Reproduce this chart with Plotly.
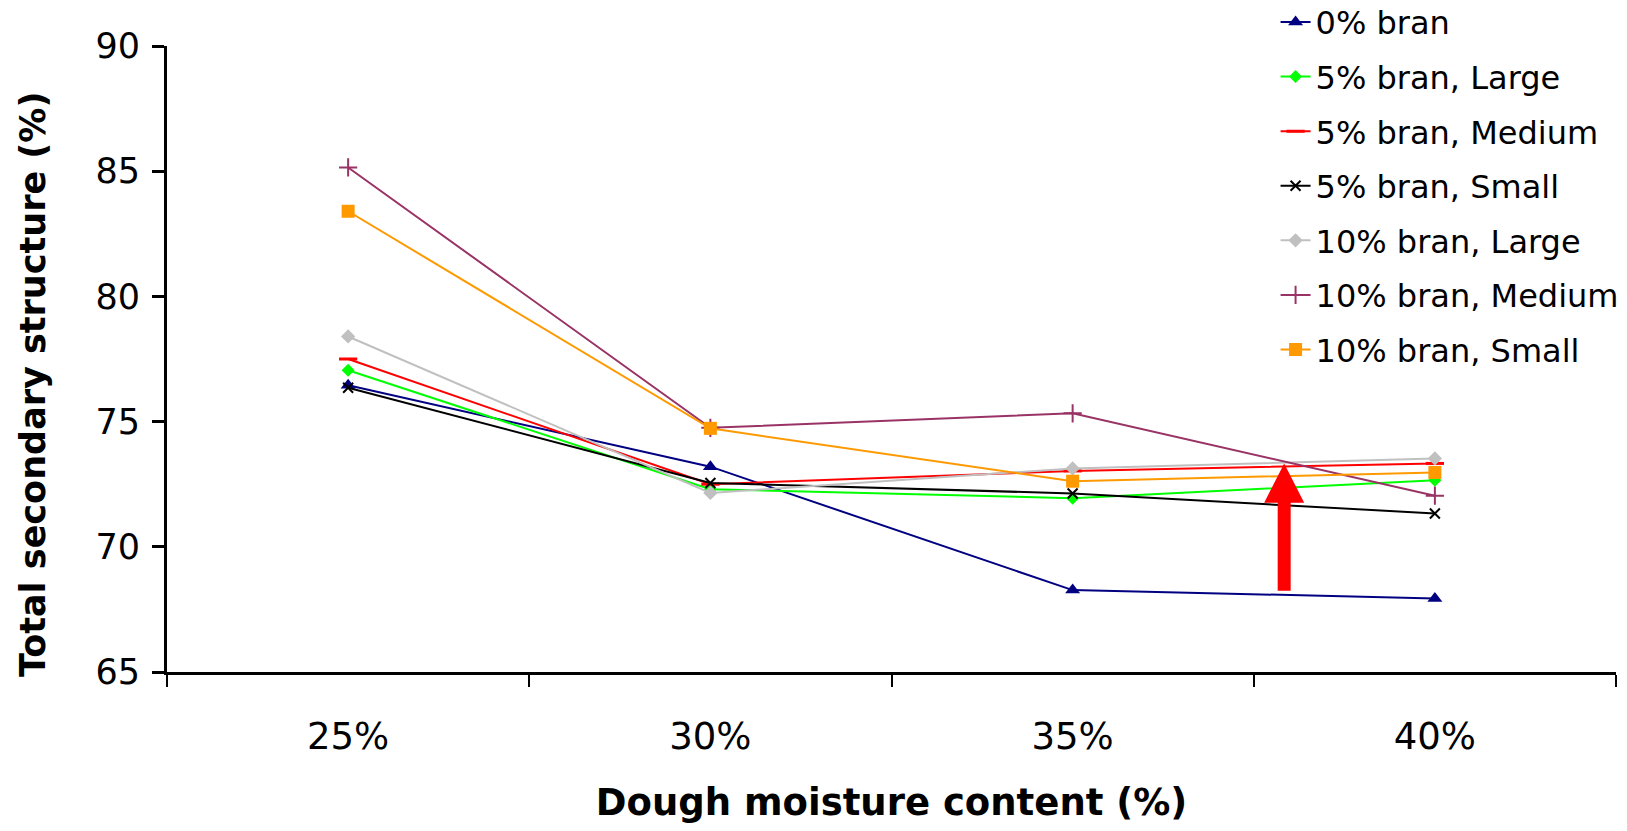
import plotly.graph_objects as go

# ---- data ----
moisture = ["25%", "30%", "35%", "40%"]
bran_0 = [76.45, 73.2, 68.27, 67.94]
bran_5_large = [77.05, 72.3, 71.94, 72.66]
bran_5_medium = [77.5, 72.5, 73.03, 73.33]
bran_5_small = [76.35, 72.55, 72.13, 71.33]
bran_10_large = [78.4, 72.15, 73.13, 73.53]
bran_10_medium = [85.15, 74.75, 75.33, 72.04]
bran_10_small = [83.4, 74.73, 72.62, 72.97]

series_names = ["0% bran", "5% bran, Large", "5% bran, Medium", "5% bran, Small",
                "10% bran, Large", "10% bran, Medium", "10% bran, Small"]
series_values = [bran_0, bran_5_large, bran_5_medium, bran_5_small,
                 bran_10_large, bran_10_medium, bran_10_small]

y_ticks = [65, 70, 75, 80, 85, 90]
x_title = "Dough moisture content (%)"
y_title = "Total secondary structure (%)"

# arrow annotation (category index / data units)
arrow_x = 2.584
arrow_y_tail = 68.24
arrow_y_head_base = 71.76
arrow_y_tip = 73.33

# ---- styles ----
colors = ["#000080", "#00FF00", "#FF0000", "#000000", "#C0C0C0", "#993366", "#FF9900"]
symbols = ["triangle-up", "diamond", "line-ew-open", "x-thin-open", "diamond",
           "cross-thin-open", "square"]
sizes = [13, 10, 13, 10, 11, 13, 13]

FONT = "DejaVu Sans, Liberation Sans, Arial, sans-serif"

fig = go.Figure()
for i, (name, vals) in enumerate(zip(series_names, series_values)):
    mk = dict(symbol=symbols[i], size=sizes[i], color=colors[i])
    if symbols[i].endswith("open"):
        mk["line"] = dict(color=colors[i], width=3 if "line-ew" in symbols[i] else 2)
    else:
        mk["line"] = dict(width=0)
    fig.add_trace(go.Scatter(
        x=moisture, y=vals, name=name, mode="lines+markers",
        line=dict(color=colors[i], width=2),
        marker=mk, legendgroup=f"g{i}",
    ))

# red arrow drawn as a polygon, pixel widths around an anchor
xa = (arrow_x + 0.5) / len(moisture)
path = (f"M-6.5,{arrow_y_tail} L6.5,{arrow_y_tail} L6.5,{arrow_y_head_base} "
        f"L20,{arrow_y_head_base} L0,{arrow_y_tip} L-20,{arrow_y_head_base} "
        f"L-6.5,{arrow_y_head_base} Z")
fig.add_shape(type="path", xref="paper", yref="y", xsizemode="pixel", xanchor=xa,
              path=path, fillcolor="#FF0000", line=dict(width=0), layer="above")

# y-axis title as a rotated annotation (positioned like the reference)
fig.add_annotation(
    text=f"<b>{y_title}</b>", textangle=-90, showarrow=False,
    xref="paper", yref="paper", x=-0.0925, y=0.46,
    xanchor="center", yanchor="middle",
    font=dict(size=35, family=FONT, color="black"),
)

fig.update_layout(
    width=1627, height=831,
    margin=dict(l=167, r=11, t=46, b=159, autoexpand=False),
    paper_bgcolor="white", plot_bgcolor="white",
    font=dict(family=FONT, color="black"),
    legend=dict(
        xref="container", yref="paper", x=0.784, y=1.082,
        xanchor="left", yanchor="top",
        font=dict(size=32, family=FONT),
        traceorder="grouped", tracegroupgap=10,
        bgcolor="rgba(0,0,0,0)", borderwidth=0,
    ),
    showlegend=True,
)

fig.update_xaxes(
    type="category", range=[-0.5, 3.5], tickson="boundaries",
    showline=True, linecolor="black", linewidth=3, mirror=False,
    ticks="outside", ticklen=12, tickwidth=2, tickcolor="black",
    showgrid=False, zeroline=False,
    tickfont=dict(size=37, family=FONT), ticklabelstandoff=30,
    title=dict(text=f"<b>{x_title}</b>",
               font=dict(size=37, family=FONT), standoff=32),
)
fig.update_yaxes(
    range=[65, 90], tickvals=y_ticks,
    showline=True, linecolor="black", linewidth=3,
    ticks="outside", ticklen=12, tickwidth=3, tickcolor="black",
    showgrid=False, zeroline=False,
    tickfont=dict(size=35, family=FONT), ticklabelstandoff=5,
)

fig.write_html("out.html")
